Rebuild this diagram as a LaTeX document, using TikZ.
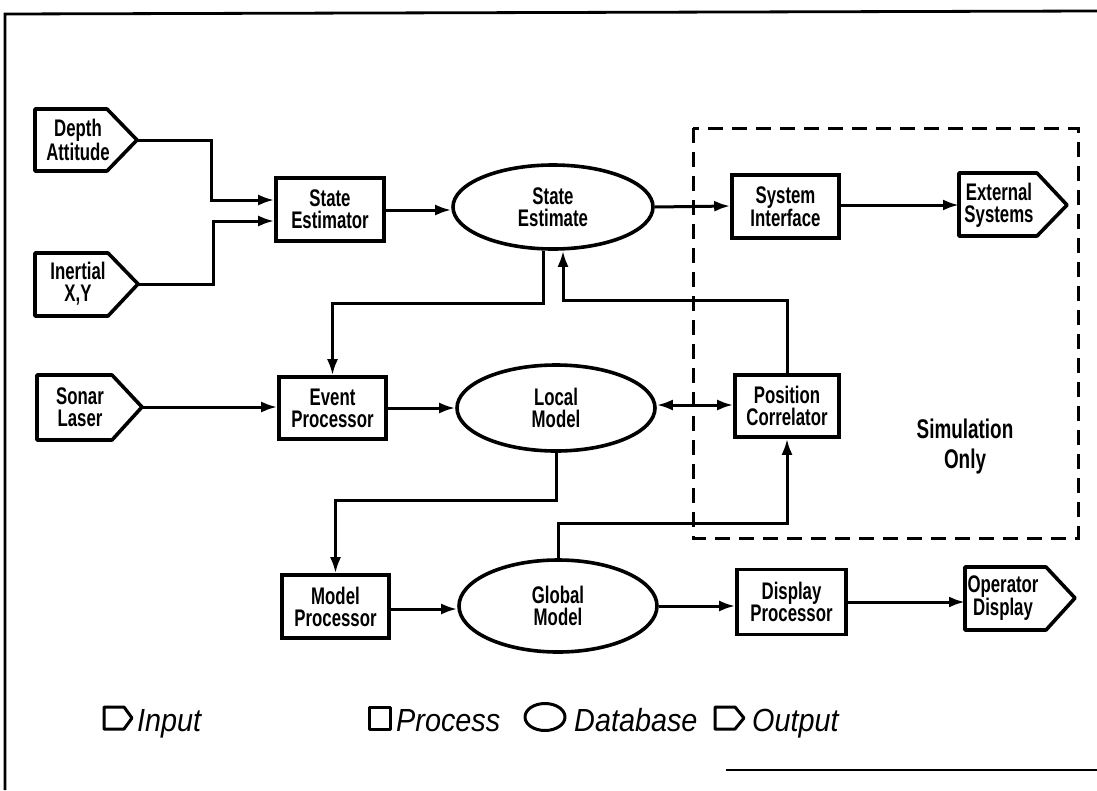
\documentclass[tikz,border=0pt]{standalone}
\usepackage{fontspec}
\setmainfont{Liberation Sans}
\newfontfamily\condf[FakeStretch=0.7]{Liberation Sans}
\newfontfamily\legf[FakeStretch=0.9]{Liberation Sans}
\usetikzlibrary{arrows.meta,calc,shapes.geometric}
\begin{document}
\begin{tikzpicture}[x=1pt,y=-1pt,
  lbl/.style={font=\condf\bfseries\fontsize{24}{22}\selectfont, align=center, inner sep=0pt},
  proc/.style={lbl, draw, line width=3.6pt, minimum width=#1, minimum height=63pt},
  proc/.default=107pt,
  dbase/.style={lbl, draw, ellipse, line width=3.6pt, inner sep=0pt},
  pent/.style={draw, line width=3.6pt, line join=round},
  tip/.style={Latex[length=16pt,width=11pt]},
  arr/.style={line width=3pt, -{Latex[length=16pt,width=11pt]}},
  arrtwo/.style={line width=3pt, {Latex[length=16pt,width=11pt]}-{Latex[length=16pt,width=11pt]}},
  simbox/.style={line width=3pt, dash pattern=on 15pt off 9pt},
  frame/.style={line width=2.8pt},
  legtxt/.style={font=\legf\itshape\fontsize{32}{32}\selectfont, inner sep=0pt, anchor=base west},
  legicon/.style={draw, line width=3pt, line join=round}
]
\useasboundingbox (0,0) rectangle (1097,790);

% frame
\draw[frame] (5,790) -- (5,14) -- (1097,11);
\draw[frame] (726,770) -- (1097,770);

% simulation only region
\draw[simbox] (693,128) rectangle (1078,538);
\node[lbl, font=\condf\bfseries\fontsize{27}{30}\selectfont] (simtxt) at (965,447) {Simulation\\Only};

% input shapes
\draw[pent] (35,109) -- (107,109) -- (137,140) -- (107,171) -- (35,171) -- cycle;
\node[lbl, anchor=center] (depth) at (78,140) {Depth\\Attitude};
\coordinate (dtip) at (137,140);

\draw[pent] (35,253) -- (108,253) -- (138,284) -- (108,316) -- (35,316) -- cycle;
\node[lbl] (inert) at (78,284) {Inertial\\X,Y};
\coordinate (itip) at (138,284);

\draw[pent] (37,375) -- (112,375) -- (142,407) -- (112,440) -- (37,440) -- cycle;
\node[lbl] (sonar) at (80,407) {Sonar\\Laser};
\coordinate (stip) at (142,407);

% output shapes
\draw[pent] (959,173) -- (1037,173) -- (1067,205) -- (1037,236) -- (959,236) -- cycle;
\node[lbl] (ext) at (999,205) {External\\Systems};
\coordinate (extin) at (959,205);

\draw[pent] (965,567) -- (1046,567) -- (1075,598) -- (1046,630) -- (965,630) -- cycle;
\node[lbl] (op) at (1003,598) {Operator\\Display};
\coordinate (opin) at (965,602);

% processes
\node[proc=108pt] (se) at (330,209.5) {State\\Estimator};
\node[proc] (si) at (785.5,206.5) {System\\Interface};
\node[proc, minimum height=62pt] (ep) at (332.5,408) {Event\\Processor};
\node[proc=104pt, minimum height=62pt] (pc) at (787,406) {Position\\Correlator};
\node[proc] (mp) at (335.5,606.5) {Model\\Processor};
\node[proc=109pt, minimum height=65pt] (dp) at (791.5,602) {Display\\Processor};

% databases
\node[dbase, minimum width=200pt, minimum height=84pt] (sest) at (553,207) {State\\Estimate};
\node[dbase, minimum width=198pt, minimum height=86pt] (lm) at (556,408) {Local\\Model};
\node[dbase, minimum width=198pt, minimum height=92pt] (gm) at (558,606) {Global\\Model};

% connectors
\draw[arr] (dtip) -- (211,140) -- (211,200) -- (se.west |- 0,200);
\draw[arr] (itip) -- (213,284) -- (213,221) -- (se.west |- 0,221);
\draw[arr] (se.east |- 0,210) -- (sest.west |- 0,210);
\draw[arr] (sest.east) -- (si.west |- 0,206);
\draw[arr] (si.east |- 0,205) -- (extin);

\draw[arr] ($(sest.south)+(-10,0)$) -- ++(0,53) -| (ep.north);
\draw[arr] (pc.north) -- (pc.north |- 0,300) -| ($(sest.south)+(10,0)$);

\draw[arr] (stip) -- (ep.west |- 0,407);
\draw[arr] (ep.east |- 0,408) -- (lm.west);
\draw[arrtwo] (lm.east |- 0,405) -- (pc.west |- 0,405);

\draw[arr] (lm.south) -- (lm.south |- 0,500) -| (mp.north);
\draw[arr] (gm.north) -- (gm.north |- 0,523) -| (pc.south);

\draw[arr] (mp.east |- 0,609) -- (gm.west |- 0,609);
\draw[arr] (gm.east |- 0,606) -- (dp.west |- 0,606);
\draw[arr] (dp.east |- 0,602) -- (opin);

% legend
\draw[legicon] (104,707) -- (124,707) -- (132,718) -- (124,729) -- (104,729) -- cycle;
\node[legtxt] (lin) at (137,731) {Input};
\draw[legicon] (369,707) rectangle (390,729);
\node[legtxt] (lproc) at (396,731) {Process};
\node[legicon, ellipse, minimum width=40pt, minimum height=27pt, inner sep=0pt] (ldb) at (545,717) {};
\node[legtxt] (ldbt) at (574,731) {Database};
\draw[legicon] (715,707) -- (735,707) -- (744,718) -- (735,729) -- (715,729) -- cycle;
\node[legtxt] (lout) at (752,731) {Output};
\end{tikzpicture}
\end{document}
